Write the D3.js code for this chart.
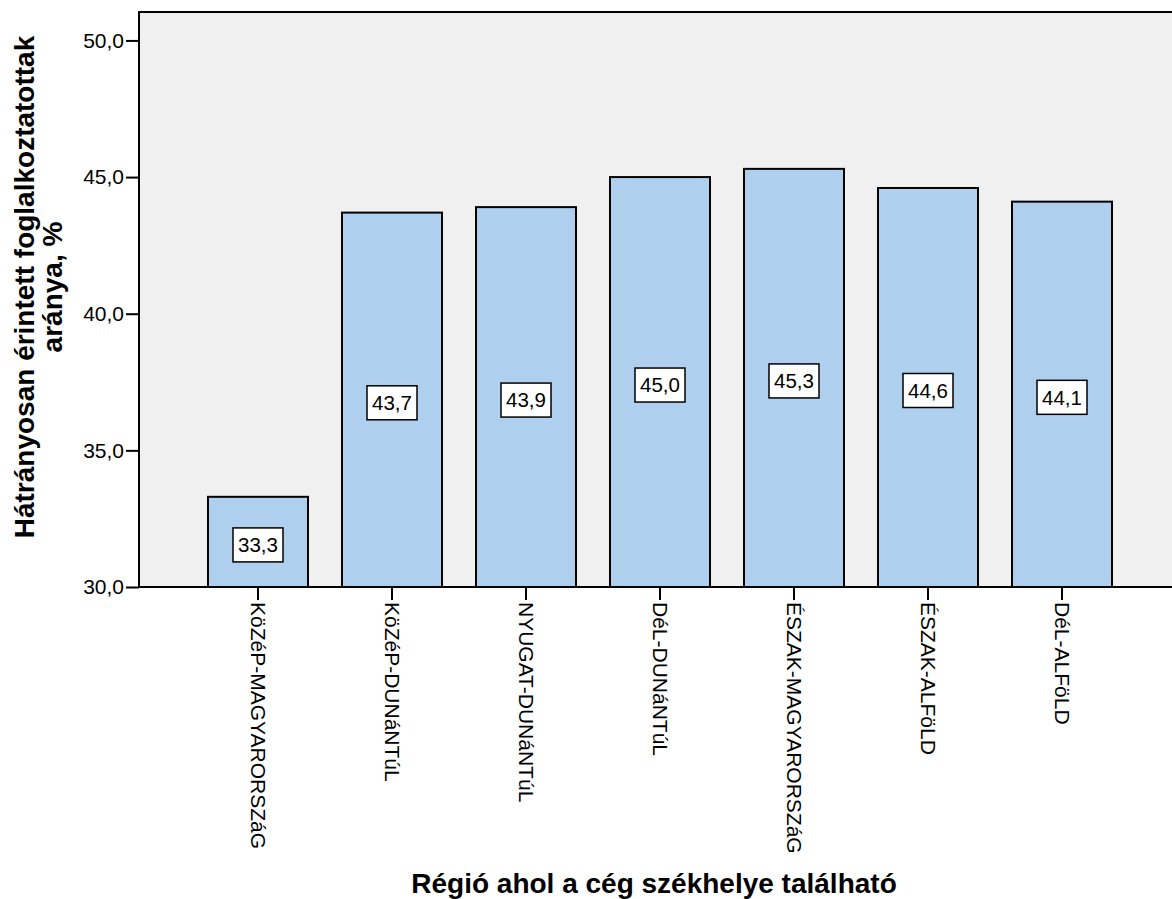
<!DOCTYPE html>
<html>
<head>
<meta charset="utf-8">
<script src="https://cdn.jsdelivr.net/npm/d3@7"></script>
<style>
  html, body { margin: 0; padding: 0; background: #ffffff; }
  svg { display: block; font-family: Arial, "Liberation Sans", sans-serif; }
</style>
</head>
<body>
<svg id="chart" width="1172" height="899"></svg>
<script>
// Regions and the share of disadvantaged employees (%)
const regions = [
  "KöZéP-MAGYARORSZáG",
  "KöZéP-DUNáNTúL",
  "NYUGAT-DUNáNTúL",
  "DéL-DUNáNTúL",
  "ÉSZAK-MAGYARORSZáG",
  "ÉSZAK-ALFöLD",
  "DéL-ALFöLD"
];
const shares = [33.3, 43.7, 43.9, 45.0, 45.3, 44.6, 44.1];
const yTicks = [30, 35, 40, 45, 50];

const yTitleLines = ["Hátrányosan érintett foglalkoztatottak", "aránya, %"];
const xTitle = "Régió ahol a cég székhelye található";

const FONT = "Arial, 'Liberation Sans', sans-serif";
const svg = d3.select("#chart");

const plot = { left: 139, top: 12, right: 1180, bottom: 587 };

const y = d3.scaleLinear()
  .domain([30, 51.04])
  .range([plot.bottom, plot.top]);

const x = d3.scaleBand()
  .domain(regions)
  .range([191, 1129])
  .paddingInner(34 / 134)
  .paddingOuter(17 / 134);

const fmt = v => d3.format(".1f")(v).replace(".", ",");

// plot background
svg.append("rect")
  .attr("x", plot.left)
  .attr("y", plot.top)
  .attr("width", plot.right - plot.left)
  .attr("height", plot.bottom - plot.top)
  .attr("fill", "#f0f0f0")
  .attr("stroke", "#000")
  .attr("stroke-width", 2);

// bars
const data = regions.map((r, i) => ({ region: r, value: shares[i] }));

svg.append("g")
  .selectAll("rect")
  .data(data)
  .join("rect")
  .attr("x", d => x(d.region))
  .attr("y", d => y(d.value))
  .attr("width", x.bandwidth())
  .attr("height", d => y(30) - y(d.value))
  .attr("fill", "#aed0ee")
  .attr("stroke", "#000")
  .attr("stroke-width", 2);

// value labels in boxes
const lab = svg.append("g")
  .selectAll("g")
  .data(data)
  .join("g")
  .attr("transform", d => `translate(${x(d.region) + x.bandwidth() / 2},${(y(d.value) + y(30)) / 2 + 3})`);

lab.append("rect")
  .attr("x", -25)
  .attr("y", -17)
  .attr("width", 50)
  .attr("height", 34)
  .attr("fill", "#fff")
  .attr("stroke", "#000")
  .attr("stroke-width", 1.5);

lab.append("text")
  .attr("text-anchor", "middle")
  .attr("dy", "0.36em")
  .attr("font-size", 20.5)
  .attr("fill", "#000")
  .text(d => fmt(d.value));

// y axis
const yAxis = svg.append("g")
  .attr("transform", `translate(${plot.left},0)`)
  .call(d3.axisLeft(y).tickValues(yTicks).tickFormat(fmt).tickSize(13).tickPadding(2));
yAxis.select(".domain").remove();
yAxis.selectAll(".tick line").attr("stroke", "#000").attr("stroke-width", 2);
yAxis.selectAll(".tick text").attr("font-size", 21).attr("fill", "#000")
  .attr("font-family", FONT);

// x axis
const xAxis = svg.append("g")
  .attr("transform", `translate(0,${plot.bottom})`)
  .call(d3.axisBottom(x).tickSize(13).tickPadding(4));
xAxis.select(".domain").remove();
xAxis.selectAll(".tick line").attr("stroke", "#000").attr("stroke-width", 2);
xAxis.selectAll(".tick text")
  .attr("font-size", 21)
  .attr("fill", "#000")
  .attr("font-family", FONT)
  .attr("text-anchor", "start")
  .attr("transform", "rotate(90)")
  .attr("x", 15)
  .attr("y", 0)
  .attr("dy", "0.35em");

// axis titles
svg.append("text")
  .attr("transform", "translate(654,893)")
  .attr("text-anchor", "middle")
  .attr("font-size", 28)
  .attr("font-weight", "bold")
  .attr("fill", "#000")
  .text(xTitle);

const yTitle = svg.append("text")
  .attr("transform", "translate(34,287) rotate(-90)")
  .attr("text-anchor", "middle")
  .attr("font-size", 28)
  .attr("font-weight", "bold")
  .attr("fill", "#000");
yTitle.selectAll("tspan")
  .data(yTitleLines)
  .join("tspan")
  .attr("x", 0)
  .attr("dy", (d, i) => i === 0 ? 0 : 28)
  .text(d => d);
</script>
</body>
</html>
